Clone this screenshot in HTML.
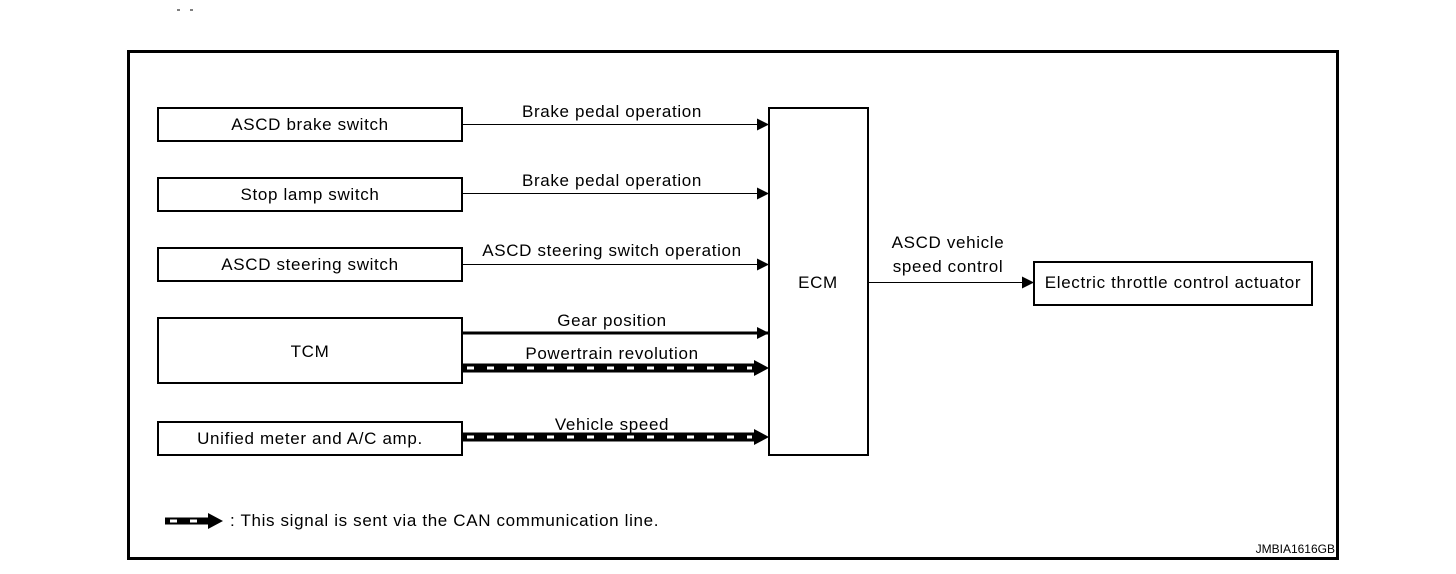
<!DOCTYPE html>
<html><head><meta charset="utf-8"><style>
html,body{margin:0;padding:0;background:#fff;}
svg{display:block;}
text{font-family:"Liberation Sans",Arial,sans-serif;font-size:17px;letter-spacing:0.65px;fill:#000;}
</style></head><body>
<svg width="1456" height="574" viewBox="0 0 1456 574" xmlns="http://www.w3.org/2000/svg">
<defs>
<marker id="a" markerWidth="12" markerHeight="12" refX="12" refY="6" orient="auto" markerUnits="userSpaceOnUse"><path d="M0,0 L12,6 L0,12 z" fill="#000"/></marker>
<marker id="b" markerWidth="14" markerHeight="16" refX="14" refY="8" orient="auto" markerUnits="userSpaceOnUse"><path d="M0,0 L14,8 L0,16 z" fill="#000"/></marker>
</defs>
<line x1="177" y1="10" x2="180" y2="10" stroke="#000"/><line x1="190" y1="10" x2="193" y2="10" stroke="#000"/>
<rect x="128.5" y="51.5" width="1209" height="507" fill="none" stroke="#000" stroke-width="3"/>
<g fill="none" stroke="#000" stroke-width="2">
<rect x="158" y="108" width="304" height="33"/>
<rect x="158" y="178" width="304" height="33"/>
<rect x="158" y="248" width="304" height="33"/>
<rect x="158" y="318" width="304" height="65"/>
<rect x="158" y="422" width="304" height="33"/>
<rect x="769" y="108" width="99" height="347"/>
<rect x="1034" y="262" width="278" height="43"/>
</g>
<g text-anchor="middle">
<text x="310" y="130">ASCD brake switch</text>
<text x="310" y="200">Stop lamp switch</text>
<text x="310" y="270">ASCD steering switch</text>
<text x="310" y="357">TCM</text>
<text x="310" y="444">Unified meter and A/C amp.</text>
<text x="818" y="288">ECM</text>
<text x="1173" y="288">Electric throttle control actuator</text>
<text x="612" y="117">Brake pedal operation</text>
<text x="612" y="186">Brake pedal operation</text>
<text x="612" y="256">ASCD steering switch operation</text>
<text x="612" y="326">Gear position</text>
<text x="612" y="359">Powertrain revolution</text>
<text x="612" y="430">Vehicle speed</text>
<text x="948" y="248">ASCD vehicle</text>
<text x="948" y="272">speed control</text>
</g>
<g stroke="#000">
<line x1="462" y1="124.5" x2="769" y2="124.5" stroke-width="1" marker-end="url(#a)"/>
<line x1="462" y1="193.5" x2="769" y2="193.5" stroke-width="1" marker-end="url(#a)"/>
<line x1="462" y1="264.5" x2="769" y2="264.5" stroke-width="1" marker-end="url(#a)"/>
<line x1="462" y1="333" x2="769" y2="333" stroke-width="3" marker-end="url(#a)"/>
<line x1="868" y1="282.5" x2="1034" y2="282.5" stroke-width="1" marker-end="url(#a)"/>
<line x1="462" y1="368" x2="756" y2="368" stroke-width="9"/>
<line x1="462" y1="437" x2="756" y2="437" stroke-width="9"/>
<line x1="165" y1="521" x2="210" y2="521" stroke-width="7"/>
</g>
<g fill="#000">
<path d="M754,360 L769,368 L754,376 z"/>
<path d="M754,429 L769,437 L754,445 z"/>
<path d="M208,513 L223,521 L208,529 z"/>
</g>
<g stroke="#fff" stroke-width="3" stroke-dasharray="7,13">
<line x1="467" y1="368" x2="752" y2="368"/>
<line x1="467" y1="437" x2="752" y2="437"/>
<line x1="170" y1="521" x2="206" y2="521"/>
</g>
<text x="230" y="526">: This signal is sent via the CAN communication line.</text>
<text x="1335" y="553" text-anchor="end" style="font-size:12px;letter-spacing:0">JMBIA1616GB</text>
</svg>
</body></html>
